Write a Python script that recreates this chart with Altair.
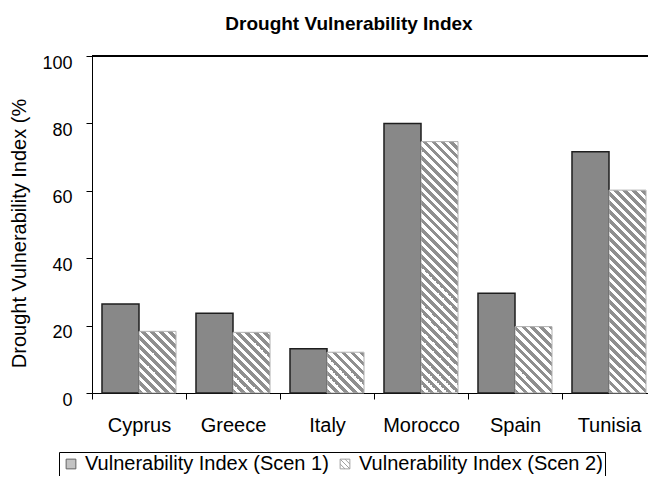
import math
import altair as alt
import pandas as pd

# ---------------- data ----------------
countries = ["Cyprus", "Greece", "Italy", "Morocco", "Spain", "Tunisia"]
scen1 = [26.4, 23.7, 13.1, 80.0, 29.6, 71.6]
scen2 = [18.3, 18.0, 12.1, 74.6, 19.7, 60.2]
series_names = ["Vulnerability Index (Scen 1)", "Vulnerability Index (Scen 2)"]
y_ticks = [0, 20, 40, 60, 80, 100]

rows = []
for c, a, b in zip(countries, scen1, scen2):
    rows.append({"country": c, "series": series_names[0], "value": a})
    rows.append({"country": c, "series": series_names[1], "value": b})
df = pd.DataFrame(rows)

# ---------------- layout ----------------
W, H = 556, 337
X_RANGE = 564
OFFSET_PAD = 0.27
FONT = "Liberation Sans"
band = X_RANGE / len(countries)
bar_w = band / (2 + 2 * OFFSET_PAD)
px_per_unit = H / 100.0
HATCH_PERIOD = 9.0 / math.sqrt(2)   # perpendicular stripe period in px
HATCH_FRAC = 0.5
STRIPE = "#8f8f8f"


def hatch_gradient(value):
    w = bar_w
    h = max(value * px_per_unit, 1.0)
    r = h / w
    dx = (1 + r) / (1 + r * r)
    dy = -dx * r
    L = (w + h) / math.sqrt(2)
    p = HATCH_PERIOD / L
    stops = []
    k = 0
    while k * p < 1:
        a = k * p
        b = min(a + HATCH_FRAC * p, 1.0)
        c = min((k + 1) * p, 1.0)
        stops += [
            alt.GradientStop(offset=a, color=STRIPE),
            alt.GradientStop(offset=b, color=STRIPE),
            alt.GradientStop(offset=b, color="#ffffff"),
            alt.GradientStop(offset=c, color="#ffffff"),
        ]
        k += 1
    return alt.LinearGradient(gradient="linear", stops=stops,
                              x1=0, y1=1, x2=dx, y2=1 + dy)


x_enc = alt.X(
    "country:N", sort=countries, title=None,
    scale=alt.Scale(range=[0, X_RANGE], paddingInner=0, paddingOuter=0),
    axis=alt.Axis(
        labelAngle=0, tickBand="extent", tickSize=6, tickColor="#000",
        domainColor="#000", labelFont=FONT, labelFontSize=20, labelColor="#000",
        labelBaseline="alphabetic", labelPadding=32, grid=False,
    ),
)
xoff = alt.XOffset("series:N", sort=series_names,
                   scale=alt.Scale(paddingInner=0, paddingOuter=OFFSET_PAD))
y_enc = alt.Y(
    "value:Q", scale=alt.Scale(domain=[0, 100], nice=False),
    axis=alt.Axis(
        values=y_ticks, grid=False, tickSize=6, tickColor="#000", domainColor="#000",
        labelFont=FONT, labelFontSize=18, labelColor="#000", labelPadding=14,
        labelBaseline="alphabetic", labelOffset=12,
        title="Drought Vulnerability Index (%", titleFont=FONT, titleFontSize=20,
        titleFontWeight="normal", titleColor="#000", titleAngle=270,
        titleAlign="center", titleBaseline="alphabetic", titleX=-67, titleY=177,
    ),
)

base = alt.Chart(df)

bars1 = base.transform_filter(alt.datum.series == series_names[0]).mark_bar(
    fill="#888888", stroke="#1e1e1e", strokeWidth=1.5
).encode(x=x_enc, xOffset=xoff, y=y_enc)

bar_layers = [bars1]
for c, v in zip(countries, scen2):
    bar_layers.append(
        base.transform_filter(
            (alt.datum.series == series_names[1]) & (alt.datum.country == c)
        ).mark_bar(fill=hatch_gradient(v), stroke="#b0b0b0", strokeWidth=1)
        .encode(x=x_enc, xOffset=xoff, y=y_enc)
    )

hatch_path = "M-1,-1H1V1H-1Z M-1,0L0,1 M-1,-1L1,1 M0,-1L1,0"

leg = alt.Legend(
    title=None, orient="none", legendX=-33, legendY=396,
    direction="horizontal", columns=2, columnPadding=6,
    labelFont=FONT, labelFontSize=20, labelColor="#000",
    labelOffset=4, symbolSize=95, symbolStrokeWidth=1,
    strokeColor="#000", fillColor="#fff", padding=2, labelLimit=400,
)

# legend carrier: points sit on the zero line, clipped and hidden under the bars
legend_pts = base.mark_point(filled=True, clip=True).encode(
    x=x_enc, xOffset=xoff, y=alt.datum(0),
    fill=alt.Fill("series:N", sort=series_names,
                  scale=alt.Scale(domain=series_names, range=["#888888", "#ffffff"]),
                  legend=leg),
    stroke=alt.Stroke("series:N", sort=series_names,
                      scale=alt.Scale(domain=series_names, range=["#222222", "#7a7a7a"]),
                      legend=leg),
    shape=alt.Shape("series:N", sort=series_names,
                    scale=alt.Scale(domain=series_names, range=["square", hatch_path]),
                    legend=leg),
)

top_rule = alt.Chart(df).mark_rule(color="#000", strokeWidth=1).encode(
    y=alt.datum(100)
)

chart = alt.layer(legend_pts, *bar_layers, top_rule).properties(
    width=W, height=H,
    title=alt.TitleParams(
        "Drought Vulnerability Index", font=FONT, fontSize=19, fontWeight="bold",
        color="#000", anchor="middle", frame="group", dx=-21, offset=20,
    ),
    autosize=alt.AutoSizeParams(type="none"),
    padding={"left": 84, "top": 48, "right": 0, "bottom": 83},
).configure_view(stroke=None).configure(background="#ffffff")

chart.save("out.html", embed_options={"renderer": "svg", "actions": False})
